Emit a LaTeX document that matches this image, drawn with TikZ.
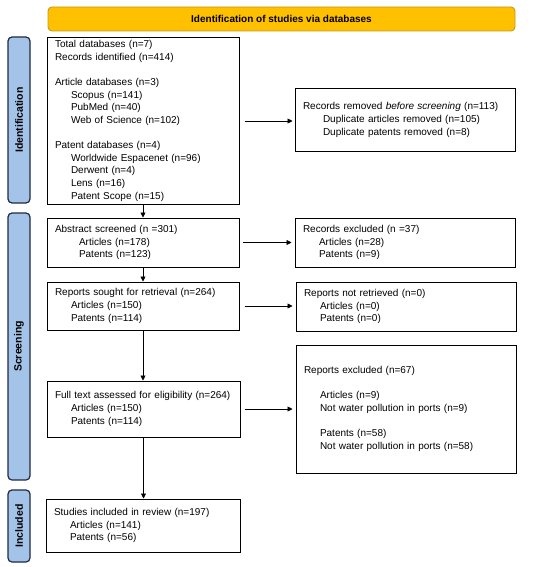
\documentclass[tikz,border=0pt]{standalone}
\usepackage{fontspec}
\setmainfont{Liberation Sans}
\usetikzlibrary{arrows.meta,calc}
\definecolor{bannerfill}{HTML}{FFC000}
\definecolor{bannerdraw}{HTML}{C49A14}
\definecolor{sidefill}{HTML}{A4C3E8}
\definecolor{sidedraw}{HTML}{1F2A44}
\begin{document}
\begin{tikzpicture}[x=1pt,y=-1pt,
  banner/.style={draw=bannerdraw,fill=bannerfill,rounded corners=4pt,line width=0.9pt,
    font=\fontsize{10}{12}\selectfont\bfseries,inner sep=0pt},
  side/.style={draw=sidedraw,fill=sidefill,rounded corners=4pt,line width=1.2pt,rotate=90,
    font=\fontsize{10.5}{12}\selectfont\bfseries,inner sep=0pt},
  box/.style={draw=black,line width=1pt,align=left,inner xsep=8pt,inner ysep=0pt,
    font=\fontsize{10}{12.6}\selectfont},
  arr/.style={-{Triangle[length=5pt,width=5pt]},line width=0.7pt},
]
\useasboundingbox (0,0) rectangle (550,567);
\newcommand{\ind}{\hspace*{16pt}}
% banner
\node[banner,minimum width=467pt,minimum height=24pt] (ban) at (281.5,19) {Identification of studies via databases};
% side bars
\node[side,minimum width=166pt,minimum height=22pt] (sideI) at (19,120) {Identification};
\node[side,minimum width=267pt,minimum height=22pt] (sideS) at (19,346.5) {Screening};
\node[side,minimum width=72pt,minimum height=22pt] (sideN) at (19,526) {Included};
% left column
\node[box,minimum width=192pt,text width=176pt,minimum height=166pt] (ident) at (143,121) {%
Total databases (n=7)\\
Records identified (n=414)\\[12.6pt]
Article databases (n=3)\\
\ind Scopus (n=141)\\
\ind PubMed (n=40)\\
\ind Web of Science (n=102)\\[12.6pt]
Patent databases (n=4)\\
\ind Worldwide Espacenet (n=96)\\
\ind Derwent (n=4)\\
\ind Lens (n=16)\\
\ind Patent Scope (n=15)};
\node[box,minimum width=192pt,text width=176pt,minimum height=49pt] (abs) at (143,242.5) {%
Abstract screened (n =301)\\
\hspace*{24pt}Articles (n=178)\\
\hspace*{24pt}Patents (n=123)};
\node[box,minimum width=192pt,text width=176pt,minimum height=48pt] (sought) at (143,306) {%
Reports sought for retrieval (n=264)\\
\ind Articles (n=150)\\
\ind Patents (n=114)};
\node[box,minimum width=193pt,text width=177pt,minimum height=56pt] (full) at (143.5,409) {%
Full text assessed for eligibility (n=264)\\
\ind Articles (n=150)\\
\ind Patents (n=114)};
\node[box,minimum width=194pt,text width=178pt,minimum height=53pt] (incl) at (143,525.5) {%
Studies included in review (n=197)\\
\ind Articles (n=141)\\
\ind Patents (n=56)};
% right column
\node[box,minimum width=220pt,text width=204pt,minimum height=62pt] (rem) at (405,120) {%
Records removed \emph{before screening} (n=113)\\
\hspace*{20pt}Duplicate articles removed (n=105)\\
\hspace*{20pt}Duplicate patents removed (n=8)};
\node[box,minimum width=220pt,text width=204pt,minimum height=49pt] (recx) at (405,242.5) {%
Records excluded (n =37)\\
\ind Articles (n=28)\\
\ind Patents (n=9)};
\node[box,minimum width=220pt,text width=204pt,minimum height=49pt] (notr) at (406,306.5) {%
Reports not retrieved (n=0)\\
\ind Articles (n=0)\\
\ind Patents (n=0)};
\node[box,minimum width=220pt,text width=204pt,minimum height=128pt] (repx) at (406,409) {%
Reports excluded (n=67)\\[12.6pt]
\ind Articles (n=9)\\
\ind Not water pollution in ports (n=9)\\[12.6pt]
\ind Patents (n=58)\\
\ind Not water pollution in ports (n=58)};
% vertical arrows
\draw[arr] (ident.south) -- (abs.north);
\draw[arr] (abs.south) -- (sought.north);
\draw[arr] (sought.south) -- (sought.south |- full.north);
\draw[arr] (full.south) -- (full.south |- incl.north);
% horizontal arrows
\draw[arr,shorten <=5pt,shorten >=2pt] (ident.east) -- (ident.east -| rem.west);
\draw[arr,shorten <=3pt,shorten >=3pt] (abs.east) -- (abs.east -| recx.west);
\draw[arr,shorten <=5pt,shorten >=3pt] (sought.east) -- (sought.east -| notr.west);
\draw[arr,shorten <=4pt,shorten >=3pt] (full.east) -- (full.east -| repx.west);
\end{tikzpicture}
\end{document}
